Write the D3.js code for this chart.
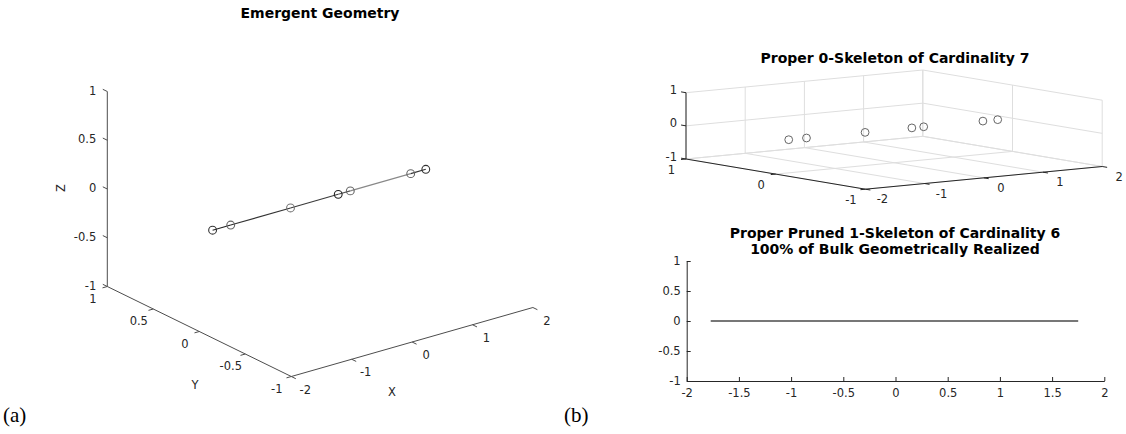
<!DOCTYPE html>
<html>
<head>
<meta charset="utf-8">
<script src="https://cdn.jsdelivr.net/npm/d3@7"></script>
<style>
body { margin: 0; background: #fff; }
text { font-family: "DejaVu Sans", sans-serif; fill: #262626; }
.title { font-weight: bold; font-size: 14px; fill: #000; }
.tick { font-size: 11.5px; }
.panel { font-family: "Liberation Serif", serif; font-size: 21px; fill: #000; }
</style>
</head>
<body>
<svg id="fig" width="1126" height="434"></svg>
<script>
// vertices of the emergent geometry (all on y = 0, z = 0)
var vx = [-1.78, -1.48, -0.49, 0.30, 0.50, 1.50, 1.75]
var vy = [0, 0, 0, 0, 0, 0, 0]
var vz = [0, 0, 0, 0, 0, 0, 0]
// 1-skeleton edges, as vertex index pairs
var edges = [[0, 1], [1, 2], [2, 3], [3, 4], [4, 5], [5, 6]]
// pruned 1-skeleton drawn in the plane
var lineX = [-1.77, 1.75]
var lineY = [0, 0]

// ticks
var xTicks3 = [-2, -1, 0, 1, 2]
var yTicksA = [-1, -0.5, 0, 0.5, 1]
var zTicksA = [-1, -0.5, 0, 0.5, 1]
var yTicksB = [-1, 0, 1]
var zTicksB = [-1, 0, 1]
var xTicks2 = [-2, -1.5, -1, -0.5, 0, 0.5, 1, 1.5, 2]
var yTicks2 = [-1, -0.5, 0, 0.5, 1]

// shades for edges / markers in (a)
var edgeShade = ["#222", "#333", "#3a3a3a", "#555", "#888", "#333"]
var dotShade = ["#333", "#666", "#777", "#222", "#666", "#666", "#333"]

var svg = d3.select("#fig")
var fmt = function(d) { return String(d) }

// orthographic 3-D projection made of three linear scales
function makeProj(o, ax, ay, az) {
    var fx = d3.scaleLinear().domain([-2, 2]).range([0, 1])
    var fy = d3.scaleLinear().domain([1, -1]).range([0, 1])
    var fz = d3.scaleLinear().domain([-1, 1]).range([0, 1])
    var p = function(x, y, z) {
        var a = fx(x), b = fy(y), c = fz(z)
        return [o[0] + a * ax[0] + b * ay[0] + c * az[0],
                o[1] + a * ax[1] + b * ay[1] + c * az[1]]
    }
    // unit screen directions for tick marks
    p.dir = function(v, s) {
        var l = Math.sqrt(v[0] * v[0] + v[1] * v[1])
        return [v[0] / l * s, v[1] / l * s]
    }
    p.ax = ax; p.ay = ay; p.az = az
    return p
}

function seg(g, a, b, col, w) {
    g.append("line")
        .attr("x1", a[0]).attr("y1", a[1])
        .attr("x2", b[0]).attr("y2", b[1])
        .attr("stroke", col)
        .attr("stroke-width", w || 1)
}

// ---------- (a) Emergent Geometry ----------
var pa = makeProj([107.3, 286.5], [241.6, -69], [184, 90], [0, -195])
var ga = svg.append("g")
var axCol = "#4d4d4d"

// z axis
seg(ga, pa(-2, 1, -1), pa(-2, 1, 1), axCol)
var tz = pa.dir([-pa.ay[0], -pa.ay[1]], 5)
zTicksA.forEach(function(z) {
    var q = pa(-2, 1, z)
    seg(ga, q, [q[0] + tz[0], q[1] + tz[1]], axCol)
    ga.append("text").attr("class", "tick")
        .attr("x", q[0] - 11).attr("y", q[1] - 1).attr("dy", "0.35em")
        .attr("text-anchor", "end").text(fmt(z))
})
// y axis
seg(ga, pa(-2, 1, -1), pa(-2, -1, -1), axCol)
var ty = pa.dir([-pa.ax[0], -pa.ax[1]], 5)
yTicksA.forEach(function(y) {
    var q = pa(-2, y, -1)
    seg(ga, q, [q[0] + ty[0], q[1] + ty[1]], axCol)
    ga.append("text").attr("class", "tick")
        .attr("x", q[0] - 14.5).attr("y", q[1] + 12).attr("dy", "0.35em")
        .attr("text-anchor", "middle").text(fmt(y))
})
// x axis
seg(ga, pa(-2, -1, -1), pa(2, -1, -1), axCol)
var tx = pa.dir(pa.ay, 5)
xTicks3.forEach(function(x) {
    var q = pa(x, -1, -1)
    seg(ga, q, [q[0] + tx[0], q[1] + tx[1]], axCol)
    ga.append("text").attr("class", "tick")
        .attr("x", q[0] + 14).attr("y", q[1] + 13).attr("dy", "0.35em")
        .attr("text-anchor", "middle").text(fmt(x))
})
ga.append("text").attr("class", "tick").attr("text-anchor", "middle")
    .attr("transform", "translate(61,188) rotate(-90)").attr("dy", "0.35em").text("Z")
ga.append("text").attr("class", "tick").attr("text-anchor", "middle")
    .attr("x", 195).attr("y", 385).attr("dy", "0.35em").text("Y")
ga.append("text").attr("class", "tick").attr("text-anchor", "middle")
    .attr("x", 392).attr("y", 392).attr("dy", "0.35em").text("X")

edges.forEach(function(e, i) {
    seg(ga, pa(vx[e[0]], vy[e[0]], vz[e[0]]), pa(vx[e[1]], vy[e[1]], vz[e[1]]), edgeShade[i], 1.1)
})
vx.forEach(function(x, i) {
    var q = pa(x, vy[i], vz[i])
    ga.append("circle").attr("cx", q[0]).attr("cy", q[1]).attr("r", 3.9)
        .attr("fill", "none").attr("stroke", dotShade[i]).attr("stroke-width", 1.1)
})
ga.append("text").attr("class", "title").attr("text-anchor", "middle")
    .attr("x", 320).attr("y", 18).text("Emergent Geometry")

// ---------- (b) top: 0-skeleton ----------
var pb = makeProj([686, 159], [236.8, -22.7], [179.4, 30.2], [0, -66.3])
var gb = svg.append("g")
var grid = "#dedede"
// back wall y = 1
xTicks3.forEach(function(x) { seg(gb, pb(x, 1, -1), pb(x, 1, 1), grid) })
zTicksB.forEach(function(z) { seg(gb, pb(-2, 1, z), pb(2, 1, z), grid) })
// back wall x = 2
yTicksB.forEach(function(y) { seg(gb, pb(2, y, -1), pb(2, y, 1), grid) })
zTicksB.forEach(function(z) { seg(gb, pb(2, 1, z), pb(2, -1, z), grid) })
// floor z = -1
xTicks3.forEach(function(x) { seg(gb, pb(x, 1, -1), pb(x, -1, -1), grid) })
yTicksB.forEach(function(y) { seg(gb, pb(-2, y, -1), pb(2, y, -1), grid) })

var dark = "#262626"
seg(gb, pb(-2, 1, -1), pb(-2, 1, 1), dark)
var tzb = pb.dir([-pb.ay[0], -pb.ay[1]], 5)
zTicksB.forEach(function(z) {
    var q = pb(-2, 1, z)
    seg(gb, q, [q[0] + tzb[0], q[1] + tzb[1]], dark)
    gb.append("text").attr("class", "tick")
        .attr("x", q[0] - 9).attr("y", q[1] - 2.5).attr("dy", "0.35em")
        .attr("text-anchor", "end").text(fmt(z))
})
seg(gb, pb(-2, 1, -1), pb(-2, -1, -1), dark)
var tyb = pb.dir([-pb.ax[0], -pb.ax[1]], 5)
yTicksB.forEach(function(y) {
    var q = pb(-2, y, -1)
    seg(gb, q, [q[0] + tyb[0], q[1] + tyb[1]], dark)
    gb.append("text").attr("class", "tick")
        .attr("x", q[0] - 14.5).attr("y", q[1] + 10.5).attr("dy", "0.35em")
        .attr("text-anchor", "middle").text(fmt(y))
})
seg(gb, pb(-2, -1, -1), pb(2, -1, -1), dark)
var txb = pb.dir(pb.ay, 5)
xTicks3.forEach(function(x) {
    var q = pb(x, -1, -1)
    seg(gb, q, [q[0] + txb[0], q[1] + txb[1]], dark)
    gb.append("text").attr("class", "tick")
        .attr("x", q[0] + 17).attr("y", q[1] + 10).attr("dy", "0.35em")
        .attr("text-anchor", "middle").text(fmt(x))
})
vx.forEach(function(x, i) {
    var q = pb(x, vy[i], vz[i])
    gb.append("circle").attr("cx", q[0]).attr("cy", q[1]).attr("r", 3.9)
        .attr("fill", "none").attr("stroke", "#666").attr("stroke-width", 1)
})
gb.append("text").attr("class", "title").attr("text-anchor", "middle")
    .attr("x", 895).attr("y", 63).text("Proper 0-Skeleton of Cardinality 7")

// ---------- (b) bottom: pruned 1-skeleton ----------
var x2 = d3.scaleLinear().domain([-2, 2]).range([686.7, 1104.3])
var y2 = d3.scaleLinear().domain([-1, 1]).range([381, 261])
var gc = svg.append("g")

gc.append("path")
    .datum(lineX.map(function(x, i) { return [x, lineY[i]] }))
    .attr("d", d3.line().x(function(d) { return x2(d[0]) }).y(function(d) { return y2(d[1]) }))
    .attr("fill", "none").attr("stroke", "#777").attr("stroke-width", 2)

var xa = gc.append("g").attr("transform", "translate(0,381)")
    .call(d3.axisBottom(x2).tickValues(xTicks2).tickFormat(fmt)
        .tickSizeInner(-4).tickSizeOuter(0).tickPadding(8))
var ya = gc.append("g").attr("transform", "translate(686.7,0)")
    .call(d3.axisLeft(y2).tickValues(yTicks2).tickFormat(fmt)
        .tickSizeInner(-4).tickSizeOuter(0).tickPadding(6))
;[xa, ya].forEach(function(a) {
    a.attr("font-family", null).attr("font-size", null)
    a.selectAll("path, line").attr("stroke", dark)
    a.selectAll("text").attr("class", "tick").attr("fill", null)
})

gc.append("text").attr("class", "title").attr("text-anchor", "middle")
    .attr("x", 895).attr("y", 238).text("Proper Pruned 1-Skeleton of Cardinality 6")
gc.append("text").attr("class", "title").attr("text-anchor", "middle")
    .attr("x", 895).attr("y", 254).text("100% of Bulk Geometrically Realized")

// panel labels
svg.append("text").attr("class", "panel").attr("x", 3).attr("y", 422).text("(a)")
svg.append("text").attr("class", "panel").attr("x", 564).attr("y", 422).text("(b)")
</script>
</body>
</html>
